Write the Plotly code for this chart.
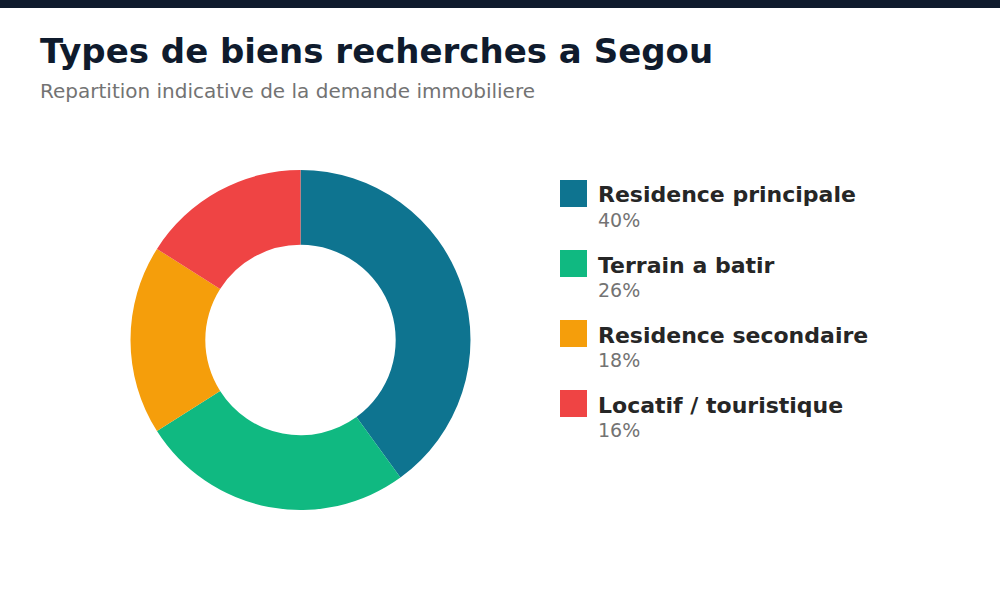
import plotly.graph_objects as go

categories = ["Residence principale", "Terrain a batir", "Residence secondaire", "Locatif / touristique"]
values = [40, 26, 18, 16]
colors = ["#0e7490", "#10b981", "#f59e0b", "#ef4444"]
pct_labels = ["40%", "26%", "18%", "16%"]

W, H = 1000, 600

def py(p):
    return 1 - p / H

fig = go.Figure(go.Pie(
    labels=categories,
    values=values,
    marker=dict(colors=colors, line=dict(width=0)),
    hole=0.56,
    sort=False,
    direction="clockwise",
    rotation=0,
    textinfo="none",
    hoverinfo="label+percent",
    showlegend=False,
    domain=dict(x=[130 / W, 471 / W], y=[py(510), py(170)]),
))

shapes = [dict(type="rect", xref="paper", yref="paper", x0=0, x1=1, y0=py(8), y1=1.02,
               fillcolor="#0f1b2d", line=dict(width=0), layer="above")]
annotations = [
    dict(text="<b>Types de biens recherches a Segou</b>", x=38 / W, y=py(51), xref="paper", yref="paper",
         xanchor="left", yanchor="middle", showarrow=False,
         font=dict(family="DejaVu Sans", size=34, color="#0f1b2d")),
    dict(text="Repartition indicative de la demande immobiliere", x=38 / W, y=py(91), xref="paper", yref="paper",
         xanchor="left", yanchor="middle", showarrow=False,
         font=dict(family="DejaVu Sans", size=20, color="#737373")),
]

for i, (cat, col, pl) in enumerate(zip(categories, colors, pct_labels)):
    top = 180 + 70 * i
    shapes.append(dict(type="rect", xref="paper", yref="paper", x0=560 / W, x1=587 / W,
                       y0=py(top + 27), y1=py(top), fillcolor=col, line=dict(width=0)))
    annotations.append(dict(text="<b>" + cat + "</b>", x=596 / W, y=py(top + 15), xref="paper", yref="paper",
                            xanchor="left", yanchor="middle", showarrow=False,
                            font=dict(family="DejaVu Sans", size=22, color="#262626")))
    annotations.append(dict(text=pl, x=596 / W, y=py(top + 40), xref="paper", yref="paper",
                            xanchor="left", yanchor="middle", showarrow=False,
                            font=dict(family="DejaVu Sans", size=19, color="#737373")))

fig.update_layout(
    width=W, height=H,
    margin=dict(l=0, r=0, t=0, b=0),
    paper_bgcolor="white", plot_bgcolor="white",
    shapes=shapes, annotations=annotations,
)

fig.write_html("out.html")
